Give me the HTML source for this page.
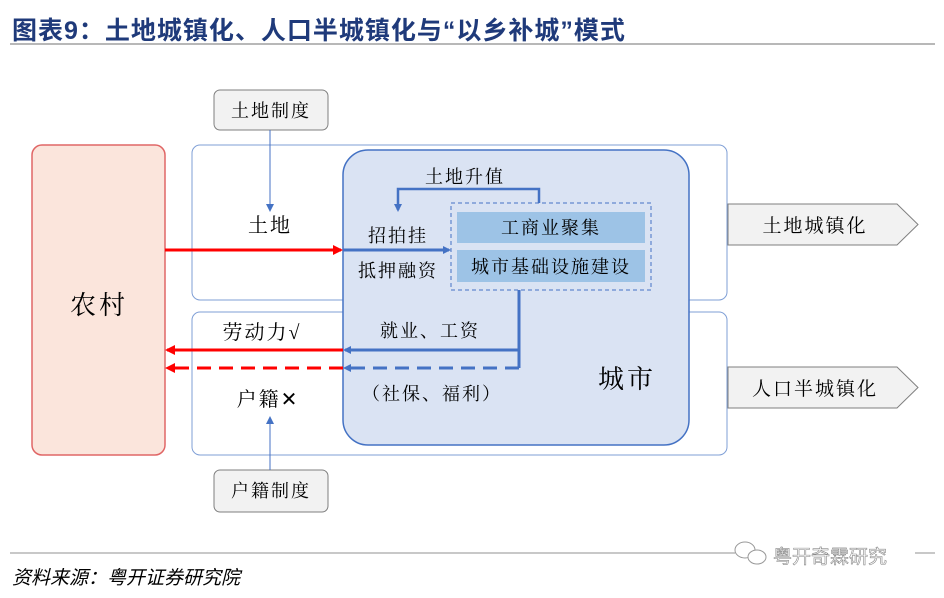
<!DOCTYPE html>
<html><head><meta charset="utf-8"><style>
body{margin:0;background:#fff;}
svg{display:block;font-family:"Liberation Serif","Noto Serif CJK SC","Noto Sans CJK SC",serif;}
.s{font-family:"Liberation Sans","Noto Sans CJK SC",sans-serif;}
</style></head><body>
<svg width="944" height="598" viewBox="0 0 944 598" xmlns="http://www.w3.org/2000/svg">
<defs>
<marker id="ab" markerWidth="8" markerHeight="8" refX="6" refY="4" orient="auto" markerUnits="userSpaceOnUse"><path d="M0,0 L8,4 L0,8 z" fill="#4472C4"/></marker>
<marker id="ar" markerWidth="10" markerHeight="10" refX="8" refY="5" orient="auto" markerUnits="userSpaceOnUse"><path d="M0,0 L10,5 L0,10 z" fill="#FF0000"/></marker>
</defs>
<text x="12" y="39" class="s" font-size="25" font-weight="bold" fill="#1F3A7A" letter-spacing="1">图表9：土地城镇化、人口半城镇化与“以乡补城”模式</text>
<line x1="10" y1="44" x2="935" y2="44" stroke="#A0A0A0" stroke-width="1.5"/>

<rect x="32" y="145" width="133" height="310" rx="10" fill="#FBE5DC" stroke="#E06666" stroke-width="1.5"/>
<text x="99" y="314" font-size="26" text-anchor="middle" letter-spacing="3" fill="#000">农村</text>

<rect x="192" y="145" width="535" height="155" rx="8" fill="#fff" stroke="#7F9FD6" stroke-width="1"/>
<rect x="192" y="312" width="535" height="143" rx="8" fill="#fff" stroke="#7F9FD6" stroke-width="1"/>
<rect x="343" y="150" width="346" height="295" rx="25" fill="#DAE3F3" stroke="#4472C4" stroke-width="1.5"/>
<rect x="451" y="203" width="200" height="87" fill="none" stroke="#4472C4" stroke-width="1" stroke-dasharray="4,3"/>
<rect x="457" y="212" width="188" height="31" fill="#9DC3E6"/>
<rect x="457" y="250" width="188" height="32" fill="#9DC3E6"/>
<g font-size="18" letter-spacing="2" text-anchor="middle">
<text x="551" y="234">工商业聚集</text>
<text x="551" y="273">城市基础设施建设</text>
</g>

<rect x="214" y="90" width="114" height="40" rx="6" fill="#F2F2F2" stroke="#7F7F7F"/>
<text x="271" y="117" font-size="18" letter-spacing="2" text-anchor="middle">土地制度</text>
<line x1="270" y1="130" x2="270" y2="210" stroke="#4472C4" stroke-width="1" marker-end="url(#ab)"/>
<rect x="214" y="470" width="114" height="42" rx="6" fill="#F2F2F2" stroke="#7F7F7F"/>
<text x="271" y="497" font-size="18" letter-spacing="2" text-anchor="middle">户籍制度</text>
<line x1="270" y1="470" x2="270" y2="418" stroke="#4472C4" stroke-width="1" marker-end="url(#ab)"/>

<g font-size="20" letter-spacing="2" text-anchor="middle">
<text x="270" y="232">土地</text>
<text x="262" y="339">劳动力√</text>
<text x="268" y="406">户籍✕</text>
</g>

<line x1="165" y1="250" x2="341" y2="250" stroke="#FF0000" stroke-width="3" marker-end="url(#ar)"/>
<line x1="343" y1="250" x2="449" y2="250" stroke="#4472C4" stroke-width="3" marker-end="url(#ab)"/>
<g font-size="18" letter-spacing="2" text-anchor="middle">
<text x="398" y="242">招拍挂</text>
<text x="398" y="277">抵押融资</text>
<text x="465" y="183">土地升值</text>
<text x="430" y="337">就业、工资</text>
<text x="432" y="400">（社保、福利）</text>
</g>
<polyline points="539,203 539,189 398,189 398,210" fill="none" stroke="#4472C4" stroke-width="2.5" marker-end="url(#ab)"/>

<polyline points="519,290 519,350 345,350" fill="none" stroke="#4472C4" stroke-width="3" marker-end="url(#ab)"/>
<line x1="519" y1="350" x2="519" y2="368" stroke="#4472C4" stroke-width="3"/>
<line x1="519" y1="368" x2="345" y2="368" stroke="#4472C4" stroke-width="3" stroke-dasharray="14,8" marker-end="url(#ab)"/>
<line x1="343" y1="350" x2="167" y2="350" stroke="#FF0000" stroke-width="3" marker-end="url(#ar)"/>
<line x1="343" y1="368" x2="167" y2="368" stroke="#FF0000" stroke-width="3" stroke-dasharray="14,8" marker-end="url(#ar)"/>
<text x="627" y="388" font-size="26" letter-spacing="3" text-anchor="middle">城市</text>

<polygon points="728,204 897,204 918,224.5 897,245 728,245" fill="#F2F2F2" stroke="#7F7F7F"/>
<text x="815" y="232" font-size="19" letter-spacing="2" text-anchor="middle">土地城镇化</text>
<polygon points="728,367 897,367 918,387.5 897,408 728,408" fill="#F2F2F2" stroke="#7F7F7F"/>
<text x="815" y="395" font-size="19" letter-spacing="2" text-anchor="middle">人口半城镇化</text>

<line x1="10" y1="553" x2="935" y2="553" stroke="#909090" stroke-width="1"/>
<rect x="735" y="543" width="180" height="22" fill="#fff"/>
<g fill="#fff" stroke="#999">
<ellipse cx="745" cy="550" rx="10" ry="8"/>
<ellipse cx="757" cy="557" rx="9" ry="7"/>
</g>
<text x="773" y="563" class="s" font-size="19" fill="#fff" stroke="#888" stroke-width="0.6">粤开奇霖研究</text>
<text x="12" y="584" class="s" font-size="19" font-style="italic" fill="#000">资料来源：粤开证券研究院</text>
</svg>
</body></html>
